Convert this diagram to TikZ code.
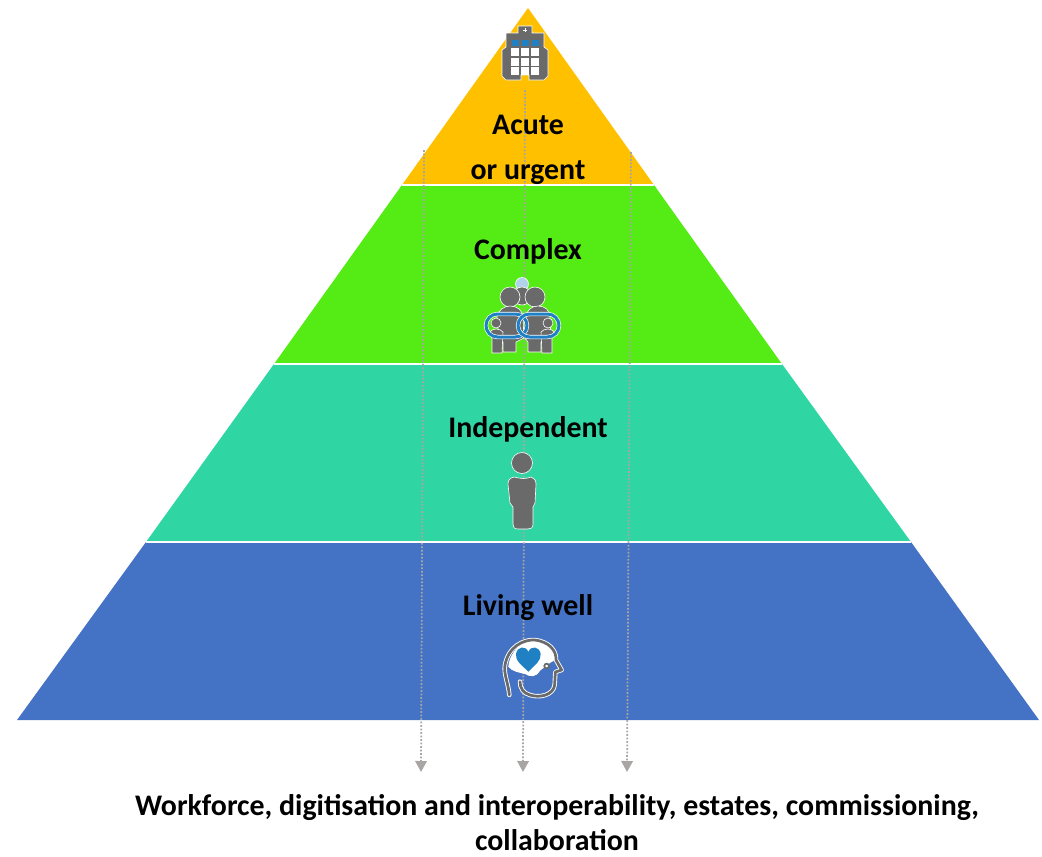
\documentclass[tikz,border=0pt]{standalone}
\usepackage{fontspec}
\setmainfont{Carlito}
\usetikzlibrary{arrows.meta}

\definecolor{acutecol}{HTML}{FFC000}
\definecolor{complexcol}{HTML}{55EB14}
\definecolor{indepcol}{HTML}{2FD6A3}
\definecolor{wellcol}{HTML}{4472C4}
\definecolor{iconcol}{HTML}{6A6A6A}
\definecolor{iconblue}{HTML}{1F80C4}
\definecolor{arrowcol}{HTML}{A9A5A5}

\tikzset{
  layerlabel/.style = {font = \fontsize{17}{18}\selectfont\bfseries, text = black, inner sep = 0pt},
  flow/.style = {draw = arrowcol, line width = 0.035cm, densely dotted, -{Triangle[width = 0.23cm, length = 0.22cm, fill = arrowcol]}},
  icon/.style = {fill = iconcol, draw = white, line width = 0.012cm}
}

\begin{document}
\begin{tikzpicture}[x = 0.02cm, y = -0.02cm]
\useasboundingbox (0,0) rectangle (1042,856);

% pyramid corners
\coordinate (apex) at (528,8);
\coordinate (a1) at (402,185);
\coordinate (a2) at (654,185);
\coordinate (b1) at (274,364);
\coordinate (b2) at (782,364);
\coordinate (c1) at (146,542);
\coordinate (c2) at (911,542);
\coordinate (d1) at (17,720);
\coordinate (d2) at (1039,720);

\fill[acutecol] (apex)--(a2)--(a1)--cycle;
\fill[complexcol] (a1)--(a2)--(b2)--(b1)--cycle;
\fill[indepcol] (b1)--(b2)--(c2)--(c1)--cycle;
\fill[wellcol] (c1)--(c2)--(d2)--(d1)--cycle;
\draw[white, line width = 0.03cm] (a1)--(a2);
\draw[white, line width = 0.03cm] (b1)--(b2);
\draw[white, line width = 0.03cm] (c1)--(c2);

% arrows
\coordinate (s1) at (424,150);
\coordinate (s2) at (525,90);
\coordinate (s3) at (631,152);
\coordinate (e1) at (421,772);
\coordinate (e2) at (523,772);
\coordinate (e3) at (627,772);
\draw[flow] (s1)--(e1);
\draw[flow] (s2)--(e2);
\draw[flow] (s3)--(e3);

% labels
\node[layerlabel] (acute) at (528,125) {Acute};
\node[layerlabel] (urgent) at (528,173) {or urgent};
\node[layerlabel] (complex) at (528,251) {Complex};
\node[layerlabel] (independent) at (528,429) {Independent};
\node[layerlabel] (living) at (528,608) {Living well};
\node[layerlabel, align = center] (enablers) at (557,823) {Workforce, digitisation and interoperability, estates, commissioning,\\[0.07cm]collaboration};

% hospital
\filldraw[icon] (518,33)--(518,26)--(532,26)--(532,33)--(544,33)--(544,47)--(548,50)--(548,76)--(544,80)--(529,80)--(529,75)--(521,75)--(521,80)--(506,80)--(502,76)--(502,50)--(506,47)--(506,33)--cycle;
\fill[white] (523,29.5) rectangle (527,30.5);
\fill[white] (524.5,28) rectangle (525.5,32);
\foreach \cx in {515,525,535} {
  \fill[iconblue] (\cx-3.5,40) rectangle (\cx+3.5,46);
  \foreach \cy in {52,62,71}
    \fill[white] (\cx-4,\cy-4) rectangle (\cx+4,\cy+4);
}

% family
\filldraw[fill = iconblue!35!white, draw = white, line width = 0.012cm] (522,284) circle (6.5);
\filldraw[icon] (522,296) circle (9);
\filldraw[icon] (510,297) circle (10);
\filldraw[icon] (535,297) circle (10);
\filldraw[icon] (503,352) -- (503,342) -- (499,338) -- (497,318) .. controls (497,310) and (505,306) .. (510,306) .. controls (517,306) and (523,310) .. (523,318) -- (524,338) -- (516,342) -- (516,352) -- cycle;
\filldraw[icon] (528,352) -- (528,342) -- (525,338) -- (526,318) .. controls (526,310) and (532,306) .. (538,306) .. controls (545,306) and (550,310) .. (550,318) -- (551,338) -- (541,342) -- (541,352) -- cycle;
\filldraw[icon] (492,353) -- (492,336) -- (490,332) .. controls (492,328) and (500,328) .. (503,332) -- (502,353) -- cycle;
\filldraw[icon] (542,353) -- (541,332) .. controls (544,328) and (552,328) .. (554,332) -- (552,336) -- (552,353) -- cycle;
\filldraw[icon] (496,323) circle (5);
\filldraw[icon] (548,323) circle (5);
\draw[white, line width = 0.085cm, rounded corners = 0.23cm] (486,314) rectangle (527,337);
\draw[iconblue, line width = 0.06cm, rounded corners = 0.23cm] (486,314) rectangle (527,337);
\draw[white, line width = 0.085cm, rounded corners = 0.23cm] (518,314) rectangle (559,337);
\draw[iconblue, line width = 0.06cm, rounded corners = 0.23cm] (518,314) rectangle (559,337);

% person
\filldraw[icon] (522,463) circle (10.5);
\filldraw[icon] (514,477) .. controls (522,479) and (526,479) .. (531,477) .. controls (534,478) and (536,480) .. (536,484) -- (535,503) -- (533,507) -- (533,524) .. controls (533,528) and (531,529) .. (528,529) -- (518,529) .. controls (514,529) and (513,527) .. (513,524) -- (513,507) -- (510,503) -- (508,484) .. controls (508,480) and (510,478) .. (514,477) -- cycle;

% head
\begin{scope}[shift = {(480,630)}, x = 0.00667cm, y = -0.00667cm]
\fill[white] (85,110) .. controls (90,60) and (130,32) .. (165,32) .. controls (195,35) and (222,60) .. (225,90) .. controls (205,100) and (190,115) .. (180,122) .. controls (170,142) and (150,142) .. (135,132) .. controls (120,128) and (95,125) .. (85,110) -- cycle;
\fill[iconblue] (145,125) .. controls (125,105) and (105,92) .. (108,72) .. controls (112,48) and (138,46) .. (145,66) .. controls (152,46) and (178,48) .. (182,72) .. controls (184,92) and (165,105) .. (145,125) -- cycle;
\draw[white, line width = 0.09cm, line cap = round, line join = round] (88,195) .. controls (85,160) and (70,130) .. (75,105) .. controls (85,50) and (130,28) .. (165,30) .. controls (205,35) and (230,60) .. (228,90) -- (245,120) -- (226,126) -- (224,165) .. controls (220,195) and (180,205) .. (150,195) .. controls (130,190) and (120,175) .. (120,155);
\draw[iconcol, line width = 0.055cm, line cap = round, line join = round] (88,195) .. controls (85,160) and (70,130) .. (75,105) .. controls (85,50) and (130,28) .. (165,30) .. controls (205,35) and (230,60) .. (228,90) -- (245,120) -- (226,126) -- (224,165) .. controls (220,195) and (180,205) .. (150,195) .. controls (130,190) and (120,175) .. (120,155);
\filldraw[fill = white, draw = iconcol, line width = 0.035cm] (200,108) circle (7);
\end{scope}
\end{tikzpicture}
\end{document}
